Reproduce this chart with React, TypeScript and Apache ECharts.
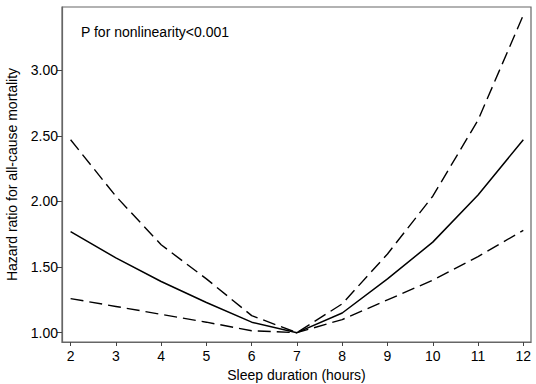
import React, { useEffect, useRef } from "react";
import * as echarts from "echarts";

const hours = [2, 3, 4, 5, 6, 7, 8, 9, 10, 11, 12];
const estimate = [1.77, 1.57, 1.39, 1.23, 1.08, 1.0, 1.15, 1.41, 1.69, 2.05, 2.47];
const lower = [1.26, 1.2, 1.14, 1.08, 1.015, 1.0, 1.1, 1.25, 1.4, 1.58, 1.78];
const upper = [2.47, 2.04, 1.67, 1.41, 1.13, 1.0, 1.22, 1.6, 2.04, 2.62, 3.42];
const xTicks = [2, 3, 4, 5, 6, 7, 8, 9, 10, 11, 12];
const yTicks = [1.0, 1.5, 2.0, 2.5, 3.0];

const FONT = "Liberation Sans, Arial, sans-serif";

export default function App() {
  const ref = useRef<HTMLDivElement>(null);
  useEffect(() => {
    if (!ref.current) return;
    const chart = echarts.init(ref.current, null, { renderer: "svg" });
    const pairs = (ys: number[]) => hours.map((h, i) => [h, ys[i]]);
    const dashed = { color: "#000", width: 1.4, type: [13, 6] as any };
    chart.setOption({
      animation: false,
      backgroundColor: "#fff",
      grid: {
        left: 62,
        right: 5,
        top: 7,
        bottom: 42,
        containLabel: false,
        outerBoundsMode: "none",
        show: true,
        borderColor: "#666",
        borderWidth: 1.2,
        backgroundColor: "transparent",
      },
      graphic: [
        {
          type: "text",
          left: 81,
          top: 25,
          style: {
            text: "P for nonlinearity<0.001",
            font: `14px ${FONT}`,
            fill: "#000",
          },
        },
      ],
      xAxis: {
        type: "value",
        min: 1.81,
        max: 12.17,
        name: "Sleep duration (hours)",
        nameLocation: "middle",
        nameGap: 23,
        nameTextStyle: { fontFamily: FONT, fontSize: 14, color: "#000" },
        axisLine: { show: true, lineStyle: { color: "#666", width: 1.2 } },
        axisTick: {
          show: true,
          length: 4,
          customValues: xTicks,
          lineStyle: { color: "#444" },
        },
        axisLabel: {
          customValues: xTicks,
          fontFamily: FONT,
          fontSize: 14,
          color: "#000",
          margin: 7,
        },
        splitLine: { show: false },
      },
      yAxis: {
        type: "value",
        min: 0.929,
        max: 3.482,
        name: "Hazard ratio for all-cause mortality",
        nameLocation: "middle",
        nameGap: 43,
        nameTextStyle: { fontFamily: FONT, fontSize: 14, color: "#000" },
        axisLine: { show: true, lineStyle: { color: "#666", width: 1.2 } },
        axisTick: {
          show: true,
          length: 5,
          customValues: yTicks,
          lineStyle: { color: "#444" },
        },
        axisLabel: {
          customValues: yTicks,
          fontFamily: FONT,
          fontSize: 14,
          color: "#000",
          margin: 4,
          formatter: (v: number) => v.toFixed(2),
        },
        splitLine: { show: false },
      },
      series: [
        {
          type: "line",
          name: "Estimate",
          data: pairs(estimate),
          showSymbol: false,
          symbol: "none",
          lineStyle: { color: "#000", width: 1.5 },
        },
        {
          type: "line",
          name: "Lower",
          data: pairs(lower),
          showSymbol: false,
          symbol: "none",
          lineStyle: dashed,
        },
        {
          type: "line",
          name: "Upper",
          data: pairs(upper),
          showSymbol: false,
          symbol: "none",
          lineStyle: dashed,
        },
      ],
    });
    return () => chart.dispose();
  }, []);
  return (
    <div
      ref={ref}
      style={{ position: "fixed", left: 0, top: 0, width: 536, height: 384 }}
    />
  );
}
